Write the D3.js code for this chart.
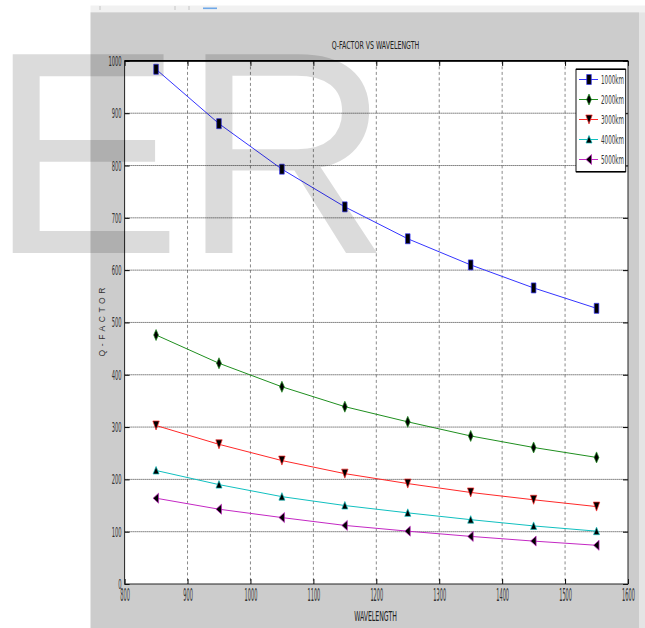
<!DOCTYPE html>
<html>
<head>
<meta charset="utf-8">
<script src="https://cdn.jsdelivr.net/npm/d3@7/dist/d3.min.js"></script>
<style>
  html, body { margin: 0; padding: 0; background: #ffffff; }
  svg { display: block; }
  text { font-family: "Liberation Sans Narrow", "DejaVu Sans Condensed", "Liberation Sans", Arial, sans-serif; }
</style>
</head>
<body>
<script>
// ---------------- data ----------------
const wavelengths = [850, 950, 1050, 1150, 1250, 1350, 1450, 1550];
const seriesNames = ["1000km", "2000km", "3000km", "4000km", "5000km"];
const q1000 = [984, 880, 793, 721, 660, 610, 566, 527];
const q2000 = [476, 422, 377, 339, 310, 283, 261, 242];
const q3000 = [303, 267, 236, 211, 192, 175, 161, 148];
const q4000 = [217, 190, 167, 150, 136, 123, 111, 101];
const q5000 = [164, 143, 127, 112, 101, 91, 82, 74];
const seriesValues = [q1000, q2000, q3000, q4000, q5000];
const seriesColors = ["#3535ff", "#1f8f1f", "#ff2828", "#10c0c0", "#c428c4"];
const seriesMarkers = ["rect", "diamond", "triDown", "triUp", "triLeft"];
const xTicks = [800, 900, 1000, 1100, 1200, 1300, 1400, 1500, 1600];
const yTicks = [0, 100, 200, 300, 400, 500, 600, 700, 800, 900, 1000];
const titleText = "Q-FACTOR VS WAVELENGTH";
const xLabel = "WAVELENGTH";
const yLabel = "Q-FACTOR";
const watermark = "ER";

// ---------------- layout ----------------
const W = 645, H = 628;
const plot = { left: 124.6, right: 628, top: 60.9, bottom: 584 };

const svg = d3.select("body").append("svg").attr("width", W).attr("height", H);

// page / figure background
svg.append("rect").attr("x", 0).attr("y", 0).attr("width", W).attr("height", H).attr("fill", "#ffffff");
svg.append("rect").attr("x", 90.5).attr("y", 5.5).attr("width", W - 90.5).attr("height", 7).attr("fill", "#f1f1f1");
svg.append("rect").attr("x", 90.5).attr("y", 12.3).attr("width", 548.5).attr("height", H - 12.3).attr("fill", "#cccccc");
svg.append("rect").attr("x", 639).attr("y", 12.3).attr("width", 6).attr("height", H - 12.3).attr("fill", "#e4e4e4");
// small toolbar marks
[100, 175, 189].forEach(x => svg.append("line").attr("x1", x).attr("x2", x).attr("y1", 6).attr("y2", 10).attr("stroke", "#bbbbbb").attr("stroke-width", 0.8));
svg.append("rect").attr("x", 203).attr("y", 7.5).attr("width", 14).attr("height", 1.6).attr("fill", "#6fa8e8");

const x = d3.scaleLinear().domain([800, 1600]).range([plot.left, plot.right]);
const y = d3.scaleLinear().domain([0, 1000]).range([plot.bottom, plot.top]);

// plot area
svg.append("rect")
  .attr("x", plot.left).attr("y", plot.top)
  .attr("width", plot.right - plot.left).attr("height", plot.bottom - plot.top)
  .attr("fill", "#ffffff");

// grid
const grid = svg.append("g");
grid.selectAll("line.v").data(xTicks.slice(1, -1)).join("line")
  .attr("x1", d => x(d)).attr("x2", d => x(d))
  .attr("y1", plot.top).attr("y2", plot.bottom)
  .attr("stroke", "#8a8a8a").attr("stroke-width", 1).attr("stroke-dasharray", "3,2.5");
grid.selectAll("line.h").data(yTicks.slice(1, -1)).join("line")
  .attr("x1", plot.left).attr("x2", plot.right)
  .attr("y1", d => y(d)).attr("y2", d => y(d))
  .attr("stroke", "#333333").attr("stroke-width", 1).attr("stroke-dasharray", "1,1");

// axes
function styleTicks(g, fontSize, perChar) {
  g.select(".domain").remove();
  g.selectAll(".tick line").attr("stroke", "#000").attr("stroke-width", 1);
  g.selectAll(".tick text")
    .attr("fill", "#333333")
    .attr("font-size", fontSize)
    .attr("textLength", function () { return this.textContent.length * perChar; })
    .attr("lengthAdjust", "spacingAndGlyphs");
}
const gx = svg.append("g").attr("transform", `translate(0,${plot.bottom})`)
  .call(d3.axisBottom(x).tickValues(xTicks).tickFormat(d3.format("d")).tickSizeInner(-5).tickSizeOuter(0).tickPadding(5));
styleTicks(gx, 17, 3.2);
const gy = svg.append("g").attr("transform", `translate(${plot.left},0)`)
  .call(d3.axisLeft(y).tickValues(yTicks).tickFormat(d3.format("d")).tickSizeInner(-5).tickSizeOuter(0).tickPadding(3));
styleTicks(gy, 14, 3.3);
const gt = svg.append("g").attr("transform", `translate(0,${plot.top})`)
  .call(d3.axisTop(x).tickValues(xTicks).tickFormat("").tickSizeInner(-5).tickSizeOuter(0));
styleTicks(gt, 1, 1);
const gr = svg.append("g").attr("transform", `translate(${plot.right},0)`)
  .call(d3.axisRight(y).tickValues(yTicks).tickFormat("").tickSizeInner(-5).tickSizeOuter(0));
styleTicks(gr, 1, 1);

// axes box
svg.append("rect")
  .attr("x", plot.left).attr("y", plot.top)
  .attr("width", plot.right - plot.left).attr("height", plot.bottom - plot.top)
  .attr("fill", "none").attr("stroke", "#222").attr("stroke-width", 1);
svg.append("line").attr("x1", plot.left).attr("x2", plot.right).attr("y1", plot.top).attr("y2", plot.top)
  .attr("stroke", "#000").attr("stroke-width", 1.6);

// marker shapes
function markerPath(type) {
  switch (type) {
    case "rect": return "M-2.3,-5H2.3V5H-2.3Z";
    case "diamond": return "M0,-5.5L2.4,0L0,5.5L-2.4,0Z";
    case "triDown": return "M-3.2,-4.5H3.2L0,4.5Z";
    case "triUp": return "M0,-4L3,3.5H-3Z";
    case "triLeft": return "M-3,0L2.5,-5V5Z";
  }
}

// series
const line = d3.line().x((d, i) => x(wavelengths[i])).y(d => y(d));
seriesValues.forEach((vals, s) => {
  const g = svg.append("g");
  g.append("path").datum(vals).attr("d", line)
    .attr("fill", "none").attr("stroke", seriesColors[s]).attr("stroke-width", 1);
  g.selectAll("path.m").data(vals).join("path")
    .attr("transform", (d, i) => `translate(${x(wavelengths[i])},${y(d)})`)
    .attr("d", markerPath(seriesMarkers[s]))
    .attr("fill", "#000").attr("stroke", seriesColors[s]).attr("stroke-width", 0.7);
});

// legend
const leg = svg.append("g");
leg.append("rect").attr("x", 576).attr("y", 69.3).attr("width", 49.7).attr("height", 102.4)
  .attr("fill", "#ffffff").attr("stroke", "#111").attr("stroke-width", 1);
leg.append("line").attr("x1", 576).attr("x2", 625.7).attr("y1", 69.3).attr("y2", 69.3).attr("stroke", "#000").attr("stroke-width", 1.6);
leg.append("line").attr("x1", 576).attr("x2", 625.7).attr("y1", 171.7).attr("y2", 171.7).attr("stroke", "#000").attr("stroke-width", 1.6);
seriesNames.forEach((name, s) => {
  const ly = 79.5 + s * 20;
  leg.append("line").attr("x1", 579).attr("x2", 598).attr("y1", ly).attr("y2", ly)
    .attr("stroke", seriesColors[s]).attr("stroke-width", 1);
  leg.append("path").attr("transform", `translate(589,${ly})`).attr("d", markerPath(seriesMarkers[s]))
    .attr("fill", "#000").attr("stroke", seriesColors[s]).attr("stroke-width", 0.7);
  leg.append("text").attr("x", 601).attr("y", ly + 4).attr("font-size", 11.5)
    .attr("fill", "#333").attr("textLength", 23).attr("lengthAdjust", "spacingAndGlyphs").text(name);
});

// titles
svg.append("text").attr("x", 375.5).attr("y", 49.3).attr("text-anchor", "middle")
  .attr("font-size", 10.5).attr("fill", "#222").attr("textLength", 87.6).attr("lengthAdjust", "spacingAndGlyphs")
  .text(titleText);
svg.append("text").attr("x", 375.5).attr("y", 620.5).attr("text-anchor", "middle")
  .attr("font-size", 14).attr("fill", "#222").attr("textLength", 42.7).attr("lengthAdjust", "spacingAndGlyphs")
  .text(xLabel);
svg.append("text").attr("transform", "translate(104.9,322) rotate(-90)").attr("text-anchor", "middle")
  .attr("font-size", 8.5).attr("fill", "#333").attr("textLength", 69).attr("lengthAdjust", "spacing")
  .style("font-family", "'Liberation Sans', Arial, sans-serif")
  .text(yLabel);

// watermark overlay
svg.append("text").attr("x", -11).attr("y", 253)
  .attr("font-size", 289).attr("fill", "#000").attr("fill-opacity", 0.14)
  .style("font-family", "'Liberation Sans', Arial, sans-serif")
  .attr("pointer-events", "none")
  .text(watermark);
</script>
</body>
</html>
